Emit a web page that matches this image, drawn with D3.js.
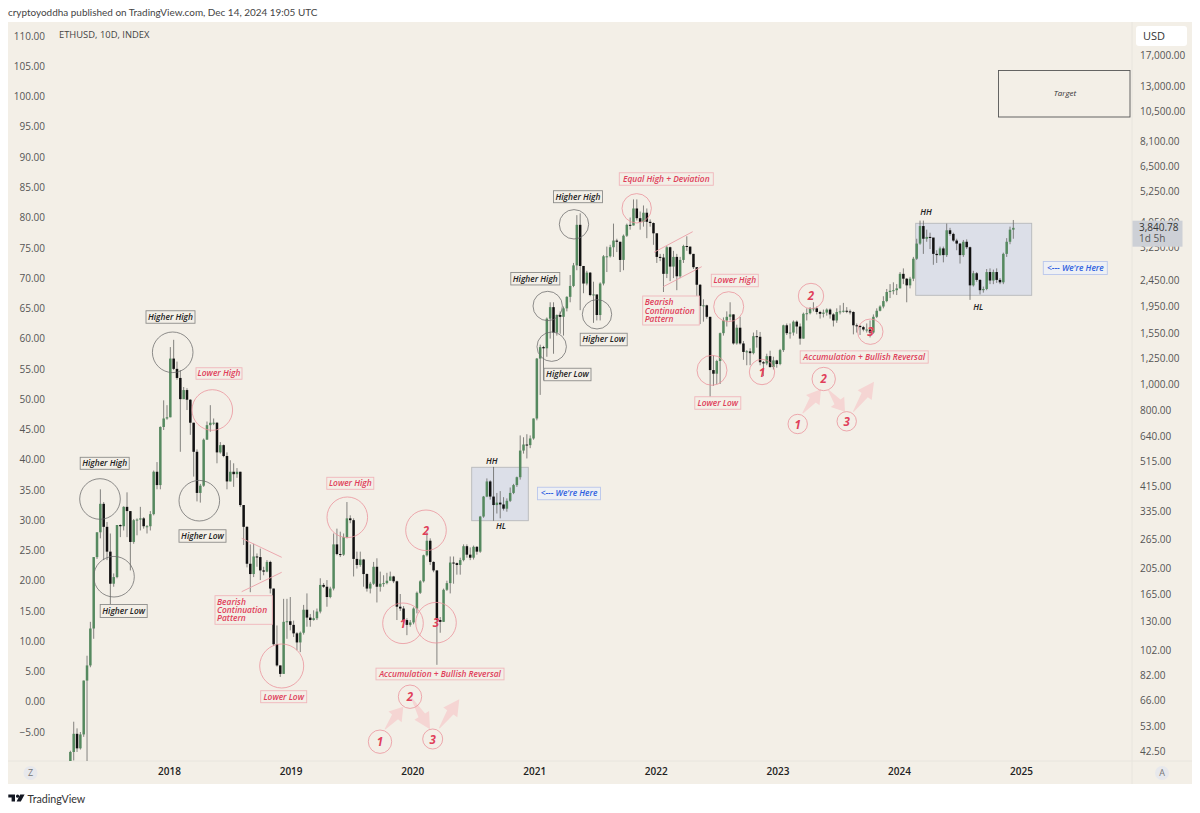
<!DOCTYPE html>
<html lang="en">
<head>
<meta charset="UTF-8">
<title>ETHUSD, 10D, INDEX</title>
<script src="https://d3js.org/d3.v7.min.js"></script>
<style>
    html, body { margin: 0; padding: 0; background: #fff; }
    svg { display: block; }
    text { font-family: "Open Sans", sans-serif; }
    .note { font-style: italic; font-weight: 600; font-size: 8.4px; }
    .brand { font-family: Lato, sans-serif; }
</style>
</head>
<body>
<div id="chart"></div>
<script>
// Prices are kept in the units of the left (linear) axis. A candle opens where the last one closed.
const firstOpen = -10.5;
const firstDate = new Date(2017, 2, 11);
const barDays = 10;

const closes = [
    -8.3,-5.3,-7.7,-5.4,3.5,6,12.1,23.9,28,32.7,
    28.9,24.8,19.5,20.6,29.2,29,32.2,31.5,26.4,30,
    30.1,30.3,29,29,31,38,35.8,45.4,46.8,47,
    56.7,55,53.5,50,51.5,49.9,46.1,41.3,34.5,35.7,
    43.3,45.7,46.1,46.1,41.2,42.4,40.6,36.4,38,37.6,
    38,32.5,28.9,22.8,21.1,24,23.9,21.7,21.5,23.1,
    18.7,9.5,6,4.6,13.2,13.3,12.7,11.3,9.8,11.4,
    15.2,13.9,13.5,13.8,14.9,19.3,19,17.3,18.7,26,
    24.4,24.3,27.2,30.3,30,23.6,22.6,23.5,21.1,18.7,
    19.5,22.3,19,19.5,19.6,20,20.7,19.9,15.7,15.4,
    13.5,12.7,13.1,15.4,18,19.9,24.2,26.6,23.1,21.7,
    13.5,13.2,18.5,19.6,23,22.9,22.6,23.4,25.7,24.3,
    23.8,25.6,24.8,30.6,33.9,36.4,33.9,32.5,32.9,32.6,
    31.9,33.2,34.5,35.8,37.1,41.5,42.5,42.4,43.5,46.8,
    56.7,58.6,58.4,63.3,65.2,61,63.9,63.6,65,66.9,
    68.7,72.1,78.8,72,69.1,70.9,67.2,67.3,63.9,69.1,
    73.6,73.6,75.1,76.2,76,73,77,78.8,78.7,81.5,
    79.9,79.3,80.8,79.3,79.1,77.4,73.5,73.4,70.7,75.1,
    71.9,73.5,70.3,73,75.3,75.2,74,71.8,68.9,65.4,
    65.5,63.6,54.8,54.2,56.3,60.9,63,63.6,64,59.2,
    61.8,59.2,57.8,57.9,57.6,60.4,60.3,56.1,55.9,57.1,
    55.3,56.4,55.8,58.1,62.2,60.9,61,62.8,62,60,
    64.1,64.2,65,65,64.4,64.1,64.3,64.8,64,63,
    64.4,64.5,64.6,64.5,64.4,62.2,62.1,61.9,61.5,61.5,
    61,63.6,64.6,65.3,66.2,67.7,67.9,68,68.3,70.7,
    69.9,68.8,69.9,73.2,75.7,78.6,76.5,76.8,76.7,74,
    73.8,74.9,73.8,77.9,77.3,76.2,75.7,73.8,76,75.1,
    68.8,70.8,69.7,68,68.2,71,69.6,71,69.7,69.3,
    74,76,78,78.3
];
const highs = [
    -8.1,-3.3,-4.4,-5,3.5,7.6,13.2,23.9,28,35.1,
    33,29.7,27.8,21.2,29.2,29.3,32.3,34.6,31.5,30.2,
    30.3,32.2,30.5,29.2,31.5,38.2,39.6,45.5,49.8,49,
    58.6,59.8,56.2,54.8,52,51.8,50,46.1,41.7,36,
    43.5,46.3,49,46.8,46.2,42.9,42.5,41.2,39.9,39.4,
    38.6,38,32.5,29,26,26.1,24.5,25.3,22.3,23.4,
    23.3,18.7,12.6,6,17,17,17.3,13.4,11.5,11.6,
    16,17.9,14.5,15.1,15.4,20.4,19.6,20.1,19,27.8,
    28.6,28.1,27.8,33,30.8,30.3,24.8,24.8,23.6,21.2,
    19.8,23.1,23.7,21.5,20.9,21.3,21.5,20.8,20,17.8,
    15.8,13.8,13.5,15.6,18.2,20.1,24.3,28,27,23.2,
    21.7,14,18.7,20,24,24,23,23.8,26,26,
    25.5,25.8,25.7,30.7,34,36.9,36.6,38.8,34.5,34.8,
    33.8,33.6,35.4,36,37.2,44,43.7,44.2,44,46.8,
    56.8,59,58.8,63.5,66,66,64,64.5,65.3,67,
    70.5,72.5,80.4,80.7,72,71.2,71,69.4,67.2,69.3,
    73.8,75.2,75.5,79,76.5,76,77.2,79,80,83,
    83,81,82,81.5,79.7,79.2,77.4,74,74,75.3,
    75.2,74.5,74,73.5,75.5,76.9,75.2,74,71.8,69,
    66.5,65.6,63.6,57.2,56.5,61,63.5,64.5,66,64,
    62.3,63.6,59.6,58.1,58.4,61,61.4,61.1,56.3,57.5,
    58,57,56.5,58.3,62.3,62.5,62.5,63,63,62.5,
    64.3,65,65.2,66,65.3,64.6,64.8,65,65,64.2,
    65,65.5,65.9,65.2,64.8,64.5,62.5,62.2,62.1,62.5,
    63,64,65,65.5,67,68.2,69,69.3,69,71,
    71.6,70,70.2,73.5,76.5,79.5,79.5,78,77.5,76.5,
    74.6,75.2,75.2,79,78.3,77.5,76.5,75.8,76.3,76.4,
    75.2,71.2,71,69.8,68.6,71.5,71.6,71.4,71.6,70,
    74.2,76.6,78.5,79.6
];
const lows = [
    -11,-9.7,-8.3,-7.9,-5.8,-11,5.7,10.4,23.6,27,
    23.4,23.4,15.6,19,20.4,27.2,28.3,27.2,21.7,26.1,
    27.5,28.3,28.6,27.8,28.3,30.8,35.1,35.1,44.9,46.6,
    47,54.8,53.2,41.3,50,48.2,44.1,37.2,33.1,32.9,
    35.5,43.3,44.6,45.7,39.4,41,40.4,35.1,36.4,35.5,
    37,32.2,25.9,22.2,18.1,20.6,22.3,20.1,20.9,21.4,
    17.9,9.2,5.8,4.1,4.6,10.4,11.8,10.7,8.5,8.2,
    11.1,12.4,12.4,13.4,13.5,14.6,18.8,15.7,17.1,18.4,
    24.2,23.9,24.1,27,29.5,20.7,22,22.3,19,18.2,
    17.9,19.3,16.4,18.2,19,19.4,20,19.6,13.5,15,
    12.4,11,12.4,12.8,14.6,17.8,19.7,24,22.6,21.4,
    6.1,11.4,13.2,18.3,17.9,19.5,21,21,23.2,23.8,
    23.4,23.5,24.3,24.6,30.4,33.8,33.4,29.9,31.1,30.3,
    31.6,31.4,33,34.3,35.5,36.7,41,40.2,41.9,43.3,
    46.5,50.7,53.1,57,60,57.5,60.5,60.8,60.5,64.5,
    66,68.5,71.3,64.7,67.5,68.8,67,62.6,63,63,
    68.8,71,73.4,73.5,74.3,71,71.3,76.8,78,78.7,
    79.5,78,78.5,76.6,78.5,75.5,72.5,72.8,67.7,70,
    69.5,70,68,70,72.5,74.5,73.8,71.5,66.4,62.4,
    62.8,63.3,49.8,52.2,52.5,52.5,60.5,62,63,59,
    59,59,56.5,55.6,55.6,57.4,58.5,55.6,53.8,55.6,
    55.2,54.9,55.2,55.6,57.8,60.6,60,60.5,60.8,59,
    60,63,64,64.5,64,63.3,63.5,63.8,63.3,62,
    62.6,64,64.3,64.2,64,60.7,61,60.6,61.2,61,
    60.2,60.8,63.4,64.5,65,66,66.7,67.3,67.2,68.3,
    69,66,68.3,69.5,73,75.5,74,76,74.8,72.2,
    72.5,73.7,72.6,73.5,77,76,74.6,72.4,73.5,74.8,
    66.4,68.6,69.4,67.3,67.6,68,69,69,69.2,69,
    69,73.5,75.6,76.5
];

const leftTicks = d3.range(110, -6, -5);
const rightTicks = [17000,13000,10500,8100,6500,5250,4050,3250,2450,1950,1550,1250,1000,800,640,515,415,335,265,205,165,130,102,82,66,53,42.5];
const yearTicks = [2018,2019,2020,2021,2022,2023,2024,2025];

const titleText = "cryptoyoddha published on TradingView.com, Dec 14, 2024 19:05 UTC";
const symbolText = "ETHUSD, 10D, INDEX";
const lastPriceText = "3,840.78";
const countdownText = "1d 5h";

// drawings sitting on top of the chart, in screen pixels
const width = 1200;
const height = 813;
const pane = { left: 8, right: 1132, top: 22, bottom: 761, outerRight: 1192, outerBottom: 784 };

const boxes = [[471.7,467.3,528.3,520.7],[915.7,223.3,1031.7,295.3]];

const blackCircles = [[172.7,352.3,20.3],[199.3,500.7,20.3],[100,499,20.3],[114,576.7,20.3],
    [574,224.3,14.7],[547.7,306,14.7],[551.7,346.7,14.7],[597,314.3,14.7]];
const redCircles = [[212.3,410,20.3],[281.7,666,22],[347.3,517.3,20.3],[426,530.3,20.3],[403,623.3,20.3],[436,622.7,20.3],
    [380,741.7,11.7],[410,696.7,11.7],[432.7,739,10],
    [636.7,208.3,14.7],[728.7,306.7,15],[712,370.3,15],
    [762,372,12.7],[811,296,12.7],[870.3,331.7,12.7],[797.7,424,9.7],[823.7,379,11.7],[846.7,421.3,9.7]];
const circleNumbers = [["1",380,742],["2",410,697],["3",432.7,739.5],["2",426,531],["1",403,624],["3",436,623],
    ["1",797.7,424.5],["2",823.7,379],["3",846.7,421.5],["1",762,373],["2",811,296],["3",870.3,332]];

const blackLabels = [["Higher High",104.7,463.3,49,12],["Higher High",170.5,317,49,12.5],["Higher Low",123.7,611,47,13],["Higher Low",202.5,536,47,12.5],
    ["Higher High",578,196.7,49,12],["Higher High",535.3,278.7,49,12.5],["Higher Low",567.5,374.5,47,12.5],["Higher Low",603.7,339.5,47,12.5]];
const redLabels = [["Lower High",219,373.5,46,11.5],["Lower Low",283.7,696.7,46,12],["Lower High",350.3,483.3,47,12],
    ["Accumulation + Bullish Reversal",440,674,128,11.7],["Equal High + Deviation",666.3,179,94,12.5],
    ["Lower High",734.8,280.5,47,12.5],["Lower Low",717.8,403,46,12.5],["Accumulation + Bullish Reversal",864.2,357,128,12.3]];
const blueLabels = [["<--- We're Here",569,493.5,63,12.5],["<--- We're Here",1075.3,268,64,13]];
const plainLabels = [["HH",491.7,461],["HL",501,526],["HH",926,211.7],["HL",978.3,306.7]];
const bearishBoxes = [[215,595.7,272.3,624.3],[642.7,296,699.3,325]];
const bearishLines = [["Bearish",217,601.7],["Continuation",217,610.3],["Pattern",217,618.3],
    ["Bearish",644.7,302.3],["Continuation",644.7,311],["Pattern",644.7,319]];
const trendLines = [[241.7,538.3,281.7,557.3],[241.7,591.7,281.7,572.3],[654,252.3,692.7,231.7],[663.3,286.7,701.7,266.7]];
const arrows = [[385,729.3,403.3,706.7],[411.7,698.3,430,729.3],[439.3,728.3,459.3,699.3],
    [802.7,413.3,821,389.3],[828.3,390,845,411.7],[853.3,411.7,874,381.7]];

const bars = closes.map((c, i) => ({
    date: d3.timeDay.offset(firstDate, i * barDays),
    open: i === 0 ? firstOpen : closes[i - 1],
    close: c,
    high: highs[i],
    low: lows[i]
}));

const x = d3.scaleTime()
    .domain([new Date(2018, 0, 1), new Date(2025, 0, 1)])
    .range([169, 1021]);
const y = d3.scaleLinear().domain([110, -5]).range([36, 732]);
const yRight = d3.scaleLog().domain([42.5, 17000]).range([751.7, 55]);

const svg = d3.select("#chart").append("svg")
    .attr("width", width)
    .attr("height", height);

svg.append("rect")
    .attr("x", pane.left).attr("y", pane.top)
    .attr("width", pane.outerRight - pane.left).attr("height", pane.outerBottom - pane.top)
    .attr("fill", "#f3efe7");

svg.append("line").attr("x1", pane.right).attr("x2", pane.right).attr("y1", pane.top).attr("y2", pane.outerBottom)
    .attr("stroke", "#e8e5de");
svg.append("line").attr("x1", pane.left).attr("x2", pane.outerRight).attr("y1", pane.bottom).attr("y2", pane.bottom)
    .attr("stroke", "#e8e5de");

svg.append("text").attr("class", "brand").attr("x", 8).attr("y", 16)
    .attr("font-size", 9.95).attr("fill", "#444").text(titleText);
svg.append("text").attr("x", 59).attr("y", 38)
    .attr("font-size", 9.4).attr("fill", "#444").text(symbolText);

// Axes
const leftAxis = svg.append("g")
    .attr("transform", "translate(45,0)")
    .call(d3.axisLeft(y).tickValues(leftTicks).tickSize(0).tickPadding(0).tickFormat(d3.format(".2f")));
const rightAxis = svg.append("g")
    .attr("transform", "translate(1140,0)")
    .call(d3.axisRight(yRight).tickValues(rightTicks).tickSize(0).tickPadding(0).tickFormat(d3.format(",.2f")));
const timeAxis = svg.append("g")
    .attr("transform", "translate(0,772)")
    .call(d3.axisBottom(x).tickValues(yearTicks.map(d => new Date(d, 0, 1))).tickSize(0).tickPadding(0).tickFormat(d3.timeFormat("%Y")));

[leftAxis, rightAxis, timeAxis].forEach(a => a.select(".domain").remove());
leftAxis.selectAll("text").attr("font-size", 10).attr("fill", "#555").style("font-family", '"Open Sans", sans-serif');
rightAxis.selectAll("text").attr("font-size", 10).attr("fill", "#555").style("font-family", '"Open Sans", sans-serif');
timeAxis.selectAll("text").attr("font-size", 10).attr("font-weight", 600).attr("fill", "#222")
    .attr("dy", "0.3em").style("font-family", '"Open Sans", sans-serif');

// Shaded ranges go under the candles
svg.append("g").selectAll("rect").data(boxes).enter().append("rect")
    .attr("x", d => d[0]).attr("y", d => d[1])
    .attr("width", d => d[2] - d[0]).attr("height", d => d[3] - d[1])
    .attr("fill", "#dcdfe8").attr("stroke", "#b7b9bb").attr("stroke-width", 0.9);

svg.append("clipPath").attr("id", "paneClip").append("rect")
    .attr("x", pane.left).attr("y", pane.top)
    .attr("width", pane.right - pane.left).attr("height", pane.bottom - pane.top);

const candles = svg.append("g").attr("clip-path", "url(#paneClip)");
candles.selectAll("line").data(bars).enter().append("line")
    .attr("x1", d => x(d.date)).attr("x2", d => x(d.date))
    .attr("y1", d => y(d.high)).attr("y2", d => y(d.low))
    .attr("stroke", "#666663").attr("stroke-width", 0.8);
candles.selectAll("rect").data(bars).enter().append("rect")
    .attr("x", d => x(d.date) - 1.25)
    .attr("width", 2.5)
    .attr("y", d => y(Math.max(d.open, d.close)))
    .attr("height", d => Math.max(1, Math.abs(y(d.open) - y(d.close))))
    .attr("fill", d => d.close >= d.open ? "#55895f" : "#111");

// Target box
svg.append("rect").attr("x", 998.5).attr("y", 70.5).attr("width", 131.5).attr("height", 46.5)
    .attr("fill", "none").attr("stroke", "#555").attr("stroke-width", 0.9);
svg.append("text").attr("x", 1065).attr("y", 93).attr("dy", "0.35em").attr("text-anchor", "middle")
    .attr("class", "note").attr("fill", "#333").style("font-size", "8px").style("font-weight", 400).text("Target");

// Arrows: thin tail widening to a head at the tip
const arrowShape = d3.line();
svg.append("g").selectAll("path").data(arrows).enter().append("path")
    .attr("fill", "#f5d5d3")
    .attr("d", d => {
        const len = Math.hypot(d[2] - d[0], d[3] - d[1]);
        const head = len * 0.45;
        return arrowShape([[0, -0.5], [len - head, -3.8], [len - head, -8.5], [len, 0], [len - head, 8.5], [len - head, 3.8], [0, 0.5]]) + "Z";
    })
    .attr("transform", d => `translate(${d[0]},${d[1]}) rotate(${Math.atan2(d[3] - d[1], d[2] - d[0]) * 180 / Math.PI})`);

svg.append("g").selectAll("line").data(trendLines).enter().append("line")
    .attr("x1", d => d[0]).attr("y1", d => d[1]).attr("x2", d => d[2]).attr("y2", d => d[3])
    .attr("stroke", "#eba0a8").attr("stroke-width", 0.9);

function drawCircles(rows, colour) {
    svg.append("g").selectAll("circle").data(rows).enter().append("circle")
        .attr("cx", d => d[0]).attr("cy", d => d[1]).attr("r", d => d[2])
        .attr("fill", "none").attr("stroke", colour).attr("stroke-width", 0.75);
}
drawCircles(blackCircles, "#6a6a6a");
drawCircles(redCircles, "#e98f98");

svg.append("g").selectAll("text").data(circleNumbers).enter().append("text")
    .attr("x", d => d[1]).attr("y", d => d[2]).attr("dy", "0.36em").attr("text-anchor", "middle")
    .attr("font-size", 11.5).attr("font-style", "italic").attr("font-weight", 700).attr("fill", "#e0405a")
    .text(d => d[0]);

function drawLabels(rows, border, fill, colour) {
    const g = svg.append("g").selectAll("g").data(rows).enter().append("g");
    g.append("rect")
        .attr("x", d => d[1] - d[3] / 2).attr("y", d => d[2] - d[4] / 2)
        .attr("width", d => d[3]).attr("height", d => d[4])
        .attr("fill", fill).attr("stroke", border).attr("stroke-width", 0.9);
    g.append("text")
        .attr("class", "note")
        .attr("x", d => d[1]).attr("y", d => d[2]).attr("dy", "0.35em")
        .attr("text-anchor", "middle").attr("fill", colour)
        .text(d => d[0]);
}
drawLabels(blackLabels, "#8d8d8a", "#f3efe7", "#222");
drawLabels(redLabels, "#f0b6bb", "#f3efe7", "#e0405a");
drawLabels(blueLabels, "#b9c6ec", "#eef0f4", "#2d5fe0");

svg.append("g").selectAll("rect").data(bearishBoxes).enter().append("rect")
    .attr("x", d => d[0]).attr("y", d => d[1])
    .attr("width", d => d[2] - d[0]).attr("height", d => d[3] - d[1])
    .attr("fill", "#f3efe7").attr("stroke", "#f0b6bb").attr("stroke-width", 0.9);
svg.append("g").selectAll("text").data(bearishLines).enter().append("text")
    .attr("class", "note")
    .attr("x", d => d[1]).attr("y", d => d[2]).attr("dy", "0.35em").attr("fill", "#e0405a")
    .text(d => d[0]);
svg.append("g").selectAll("text").data(plainLabels).enter().append("text")
    .attr("class", "note")
    .attr("x", d => d[1]).attr("y", d => d[2]).attr("dy", "0.35em").attr("text-anchor", "middle").attr("fill", "#222")
    .text(d => d[0]);

// Currency button and last price tag
svg.append("rect").attr("x", 1136).attr("y", 26).attr("width", 51).attr("height", 20).attr("rx", 3).attr("fill", "#fff");
svg.append("text").attr("x", 1143).attr("y", 40).attr("font-size", 11).attr("fill", "#333").text("USD");

svg.append("rect").attr("x", 1132.5).attr("y", 220.7).attr("width", 50).attr("height", 26).attr("fill", "#cdd0d6");
svg.append("text").attr("x", 1139).attr("y", 230.5).attr("font-size", 10).attr("fill", "#333").text(lastPriceText);
svg.append("text").attr("x", 1139).attr("y", 242).attr("font-size", 10).attr("fill", "#555").text(countdownText);

// Scale badges
[["Z", 30.5], ["A", 1162]].forEach(b => {
    svg.append("circle").attr("cx", b[1]).attr("cy", 773).attr("r", 7).attr("fill", "#e7e8ec");
    svg.append("text").attr("x", b[1]).attr("y", 773).attr("dy", "0.35em").attr("text-anchor", "middle")
        .attr("font-size", 9).attr("fill", "#777").text(b[0]);
});

// TradingView mark
svg.append("path").attr("fill", "#131722")
    .attr("d", "M8.3 794.6H15V801.6H11.6V797.6H8.3Z M20.2 794.6H24.6L20.8 801.6H16.6Z");
svg.append("circle").attr("cx", 17.6).attr("cy", 796.2).attr("r", 1.6).attr("fill", "#131722");
svg.append("text").attr("class", "brand").attr("x", 27.5).attr("y", 803).attr("font-size", 10.7).attr("fill", "#333").text("TradingView");
</script>
</body>
</html>
